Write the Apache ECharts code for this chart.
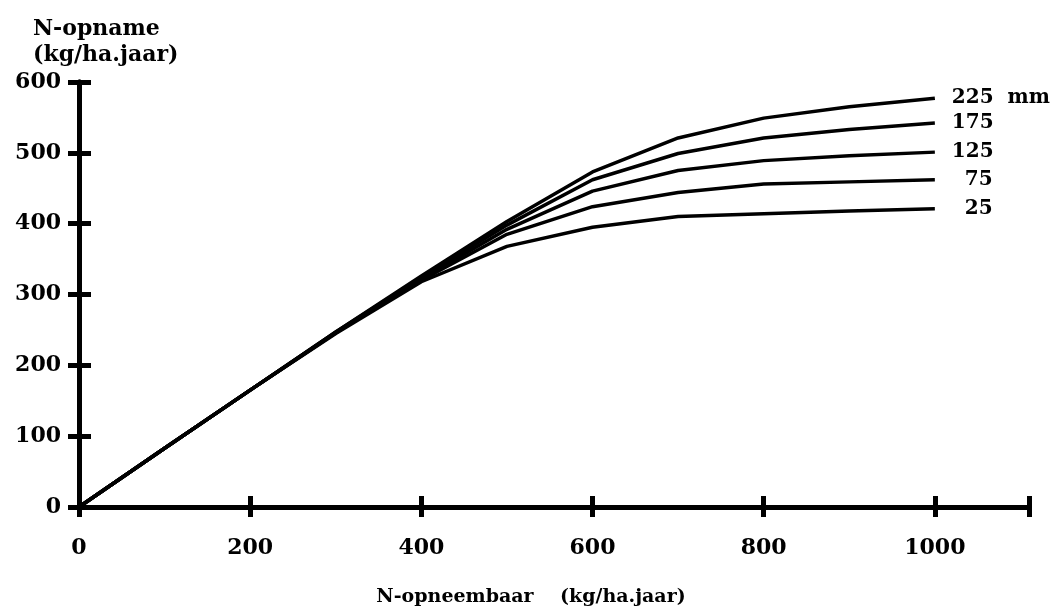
<!DOCTYPE html>
<html>
<head>
<meta charset="utf-8">
<script src="https://cdn.jsdelivr.net/npm/echarts@6/dist/echarts.min.js"></script>
<style>html,body{margin:0;padding:0;background:#fff;}#c{width:1060px;height:612px;}</style>
</head>
<body>
<div id="c"></div>
<script>
var xValues = [0, 100, 200, 300, 400, 500, 600, 700, 800, 900, 1000];
var seriesNames = ['225  mm', '175', '125', '75', '25'];
var s225 = [0, 83, 165, 247, 326, 403, 473, 521, 549, 565, 577];
var s175 = [0, 83, 165, 247, 324, 398, 462, 499, 521, 533, 542];
var s125 = [0, 83, 165, 246, 322, 392, 446, 475, 489, 496, 501];
var s75  = [0, 83, 165, 246, 320, 385, 424, 444, 456, 459, 462];
var s25  = [0, 83, 165, 245, 318, 368, 395, 410, 414, 418, 421];
var yTicks = [0, 100, 200, 300, 400, 500, 600];
var xTicks = [0, 200, 400, 600, 800, 1000];

var allSeries = [s225, s175, s125, s75, s25];
var labelOffsets = [[0, 0], [0, 0], [0, 0], [13, 0], [13, 0]];
var FONT = 'DejaVu Serif';

function pairs(ys) { return xValues.map(function (x, i) { return [x, ys[i]]; }); }

var chart = echarts.init(document.getElementById('c'), null, {renderer: 'canvas'});
var axisLine = {show: true, onZero: false, lineStyle: {color: '#000', width: 5}};
var tickStyle = {color: '#000', width: 5};
var labelStyle = {color: '#000', fontFamily: FONT, fontWeight: 'bold', fontSize: 22};

chart.setOption({
  animation: false,
  backgroundColor: '#fff',
  grid: {left: 79, right: 31, top: 82, bottom: 105, containLabel: false},
  xAxis: [{
    type: 'value', min: 0, max: 1110, interval: 200,
    name: 'N-opneembaar    (kg/ha.jaar)', nameLocation: 'middle', nameGap: 81,
    nameTextStyle: {color: '#000', fontFamily: FONT, fontWeight: 'bold', fontSize: 19, padding: [0, 46, 0, 0]},
    axisLine: axisLine,
    axisTick: {show: true, inside: false, length: 10, lineStyle: tickStyle},
    axisLabel: Object.assign({margin: 30, formatter: function (v) { return xTicks.indexOf(v) >= 0 ? String(v) : ''; }}, labelStyle),
    splitLine: {show: false}
  }, {
    type: 'value', min: 0, max: 1110, interval: 200, position: 'bottom',
    axisLine: axisLine,
    axisTick: {show: true, inside: true, length: 11, lineStyle: tickStyle},
    axisLabel: {show: false}, splitLine: {show: false}
  }],
  yAxis: [{
    type: 'value', min: 0, max: 600, interval: 100,
    name: 'N-opname\n(kg/ha.jaar)', nameLocation: 'end', nameGap: 14,
    nameTextStyle: {color: '#000', fontFamily: FONT, fontWeight: 'bold', fontSize: 22, align: 'left', lineHeight: 26, padding: [0, 0, 0, -46]},
    axisLine: axisLine,
    axisTick: {show: true, inside: false, length: 11, lineStyle: tickStyle},
    axisLabel: Object.assign({margin: 18, formatter: function (v) { return yTicks.indexOf(v) >= 0 ? String(v) : ''; }}, labelStyle),
    splitLine: {show: false}
  }, {
    type: 'value', min: 0, max: 600, interval: 100, position: 'left',
    axisLine: axisLine,
    axisTick: {show: true, inside: true, length: 12, lineStyle: tickStyle},
    axisLabel: {show: false}, splitLine: {show: false}
  }],
  series: allSeries.map(function (ys, i) {
    return {
      type: 'line', name: seriesNames[i], data: pairs(ys),
      xAxisIndex: 0, yAxisIndex: 0,
      showSymbol: false, symbol: 'none', smooth: false,
      lineStyle: {color: '#000', width: 3.5},
      endLabel: {show: true, formatter: seriesNames[i], distance: 17, offset: labelOffsets[i],
        color: '#000', fontFamily: FONT, fontWeight: 'bold', fontSize: 20}
    };
  })
});
</script>
</body>
</html>
